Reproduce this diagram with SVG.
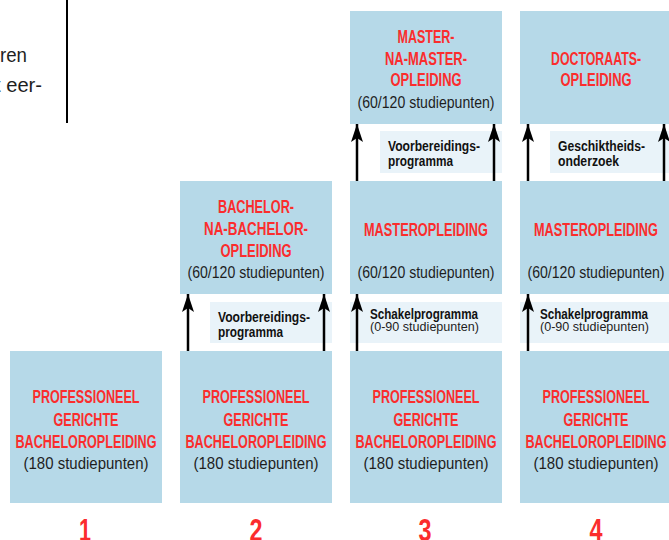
<svg xmlns="http://www.w3.org/2000/svg" width="669" height="540" viewBox="0 0 669 540">
<style>
.box{fill:#b6d9e8}
.lbl{fill:#e9f3f9}
.t{font-family:"Liberation Sans",Arial,sans-serif;font-weight:bold;font-size:19px;fill:#fb2d2d;text-anchor:middle}
.s{font-family:"Liberation Sans",Arial,sans-serif;font-size:16.5px;fill:#1e1e1e;text-anchor:middle}
.b{font-family:"Liberation Sans",Arial,sans-serif;font-weight:bold;font-size:14px;fill:#111}
.r{font-family:"Liberation Sans",Arial,sans-serif;font-size:13.5px;fill:#1e1e1e}
.n{font-family:"Liberation Sans",Arial,sans-serif;font-weight:bold;font-size:31px;fill:#fb2d2d;text-anchor:middle}
.body{font-family:"Liberation Sans",Arial,sans-serif;font-size:21px;fill:#1e1e1e}
.ln{stroke:#000;stroke-width:2.5;fill:none}
</style>
<defs>
<marker id="ah" viewBox="0 0 18 12" refX="18" refY="6" markerWidth="18" markerHeight="12" markerUnits="userSpaceOnUse" orient="auto">
<path d="M18 6 L0 0 L4 6 L0 12 Z" fill="#000"/>
</marker>
</defs>

<g id="intro">
<line x1="67" y1="0" x2="67" y2="123" stroke="#000" stroke-width="2"/>
<text class="body" x="0" y="62" textLength="27" lengthAdjust="spacingAndGlyphs">ren</text>
<text class="body" x="-5" y="92" textLength="47" lengthAdjust="spacingAndGlyphs">t eer-</text>
</g>

<!-- Column 1 -->
<g id="col1-bachelor">
<rect class="box" x="10" y="351" width="152" height="152"/>
<text class="t" x="86" y="403" textLength="107" lengthAdjust="spacingAndGlyphs">PROFESSIONEEL</text>
<text class="t" x="86" y="426" textLength="65" lengthAdjust="spacingAndGlyphs">GERICHTE</text>
<text class="t" x="86" y="448" textLength="141" lengthAdjust="spacingAndGlyphs">BACHELOROPLEIDING</text>
<text class="s" x="86" y="469" textLength="125" lengthAdjust="spacingAndGlyphs">(180 studiepunten)</text>
</g>

<!-- Column 2 -->
<g id="col2-bachelor">
<rect class="box" x="180" y="351" width="152" height="152"/>
<text class="t" x="256" y="403" textLength="107" lengthAdjust="spacingAndGlyphs">PROFESSIONEEL</text>
<text class="t" x="256" y="426" textLength="65" lengthAdjust="spacingAndGlyphs">GERICHTE</text>
<text class="t" x="256" y="448" textLength="141" lengthAdjust="spacingAndGlyphs">BACHELOROPLEIDING</text>
<text class="s" x="256" y="469" textLength="125" lengthAdjust="spacingAndGlyphs">(180 studiepunten)</text>
</g>
<g id="col2-voorbereiding">
<rect class="lbl" x="210" y="302" width="122" height="41"/>
<text class="b" x="218" y="322" textLength="92" lengthAdjust="spacingAndGlyphs">Voorbereidings-</text>
<text class="b" x="218" y="337" textLength="65" lengthAdjust="spacingAndGlyphs">programma</text>
</g>
<g id="col2-banaba">
<rect class="box" x="180" y="181" width="152" height="113"/>
<text class="t" x="256" y="213" textLength="76" lengthAdjust="spacingAndGlyphs">BACHELOR-</text>
<text class="t" x="256" y="235" textLength="104" lengthAdjust="spacingAndGlyphs">NA-BACHELOR-</text>
<text class="t" x="256" y="257" textLength="71" lengthAdjust="spacingAndGlyphs">OPLEIDING</text>
<text class="s" x="256" y="278" textLength="137" lengthAdjust="spacingAndGlyphs">(60/120 studiepunten)</text>
</g>

<!-- Column 3 -->
<g id="col3-bachelor">
<rect class="box" x="350" y="351" width="152" height="152"/>
<text class="t" x="426" y="403" textLength="107" lengthAdjust="spacingAndGlyphs">PROFESSIONEEL</text>
<text class="t" x="426" y="426" textLength="65" lengthAdjust="spacingAndGlyphs">GERICHTE</text>
<text class="t" x="426" y="448" textLength="141" lengthAdjust="spacingAndGlyphs">BACHELOROPLEIDING</text>
<text class="s" x="426" y="469" textLength="125" lengthAdjust="spacingAndGlyphs">(180 studiepunten)</text>
</g>
<g id="col3-schakel">
<rect class="lbl" x="350" y="302" width="152" height="41"/>
<text class="b" x="370" y="319" textLength="108" lengthAdjust="spacingAndGlyphs">Schakelprogramma</text>
<text class="r" x="370" y="331" textLength="109" lengthAdjust="spacingAndGlyphs">(0-90 studiepunten)</text>
</g>
<g id="col3-master">
<rect class="box" x="350" y="181" width="152" height="113"/>
<text class="t" x="426" y="236" textLength="124" lengthAdjust="spacingAndGlyphs">MASTEROPLEIDING</text>
<text class="s" x="426" y="278" textLength="137" lengthAdjust="spacingAndGlyphs">(60/120 studiepunten)</text>
</g>
<g id="col3-voorbereiding">
<rect class="lbl" x="380" y="131" width="122" height="42"/>
<text class="b" x="388" y="151" textLength="92" lengthAdjust="spacingAndGlyphs">Voorbereidings-</text>
<text class="b" x="388" y="166" textLength="65" lengthAdjust="spacingAndGlyphs">programma</text>
</g>
<g id="col3-manama">
<rect class="box" x="350" y="11" width="152" height="113"/>
<text class="t" x="426" y="43" textLength="57" lengthAdjust="spacingAndGlyphs">MASTER-</text>
<text class="t" x="426" y="65" textLength="82" lengthAdjust="spacingAndGlyphs">NA-MASTER-</text>
<text class="t" x="426" y="86" textLength="71" lengthAdjust="spacingAndGlyphs">OPLEIDING</text>
<text class="s" x="426" y="108" textLength="137" lengthAdjust="spacingAndGlyphs">(60/120 studiepunten)</text>
</g>

<!-- Column 4 -->
<g id="col4-bachelor">
<rect class="box" x="520" y="351" width="152" height="152"/>
<text class="t" x="596" y="403" textLength="107" lengthAdjust="spacingAndGlyphs">PROFESSIONEEL</text>
<text class="t" x="596" y="426" textLength="65" lengthAdjust="spacingAndGlyphs">GERICHTE</text>
<text class="t" x="596" y="448" textLength="141" lengthAdjust="spacingAndGlyphs">BACHELOROPLEIDING</text>
<text class="s" x="596" y="469" textLength="125" lengthAdjust="spacingAndGlyphs">(180 studiepunten)</text>
</g>
<g id="col4-schakel">
<rect class="lbl" x="520" y="302" width="152" height="41"/>
<text class="b" x="540" y="319" textLength="108" lengthAdjust="spacingAndGlyphs">Schakelprogramma</text>
<text class="r" x="540" y="331" textLength="109" lengthAdjust="spacingAndGlyphs">(0-90 studiepunten)</text>
</g>
<g id="col4-master">
<rect class="box" x="520" y="181" width="152" height="113"/>
<text class="t" x="596" y="236" textLength="124" lengthAdjust="spacingAndGlyphs">MASTEROPLEIDING</text>
<text class="s" x="596" y="278" textLength="137" lengthAdjust="spacingAndGlyphs">(60/120 studiepunten)</text>
</g>
<g id="col4-geschiktheid">
<rect class="lbl" x="550" y="131" width="122" height="42"/>
<text class="b" x="558" y="151" textLength="87" lengthAdjust="spacingAndGlyphs">Geschiktheids-</text>
<text class="b" x="558" y="166" textLength="61" lengthAdjust="spacingAndGlyphs">onderzoek</text>
</g>
<g id="col4-doctoraat">
<rect class="box" x="520" y="11" width="152" height="113"/>
<text class="t" x="596" y="65" textLength="90" lengthAdjust="spacingAndGlyphs">DOCTORAATS-</text>
<text class="t" x="596" y="86" textLength="71" lengthAdjust="spacingAndGlyphs">OPLEIDING</text>
</g>

<g id="numbers">
<text class="n" x="85" y="541" textLength="12" lengthAdjust="spacingAndGlyphs">1</text>
<text class="n" x="256" y="541" textLength="13" lengthAdjust="spacingAndGlyphs">2</text>
<text class="n" x="425" y="541" textLength="13" lengthAdjust="spacingAndGlyphs">3</text>
<text class="n" x="596" y="541" textLength="13" lengthAdjust="spacingAndGlyphs">4</text>
</g>

<g id="connectors">
<line class="ln" x1="188" y1="351" x2="188" y2="294" marker-end="url(#ah)"/>
<line class="ln" x1="324" y1="351" x2="324" y2="294" marker-end="url(#ah)"/>
<line class="ln" x1="357" y1="351" x2="357" y2="294" marker-end="url(#ah)"/>
<line class="ln" x1="528" y1="351" x2="528" y2="294" marker-end="url(#ah)"/>
<line class="ln" x1="357" y1="181" x2="357" y2="124" marker-end="url(#ah)"/>
<line class="ln" x1="494" y1="181" x2="494" y2="124" marker-end="url(#ah)"/>
<line class="ln" x1="528" y1="181" x2="528" y2="124" marker-end="url(#ah)"/>
<line class="ln" x1="664" y1="181" x2="664" y2="124" marker-end="url(#ah)"/>
</g>
</svg>
